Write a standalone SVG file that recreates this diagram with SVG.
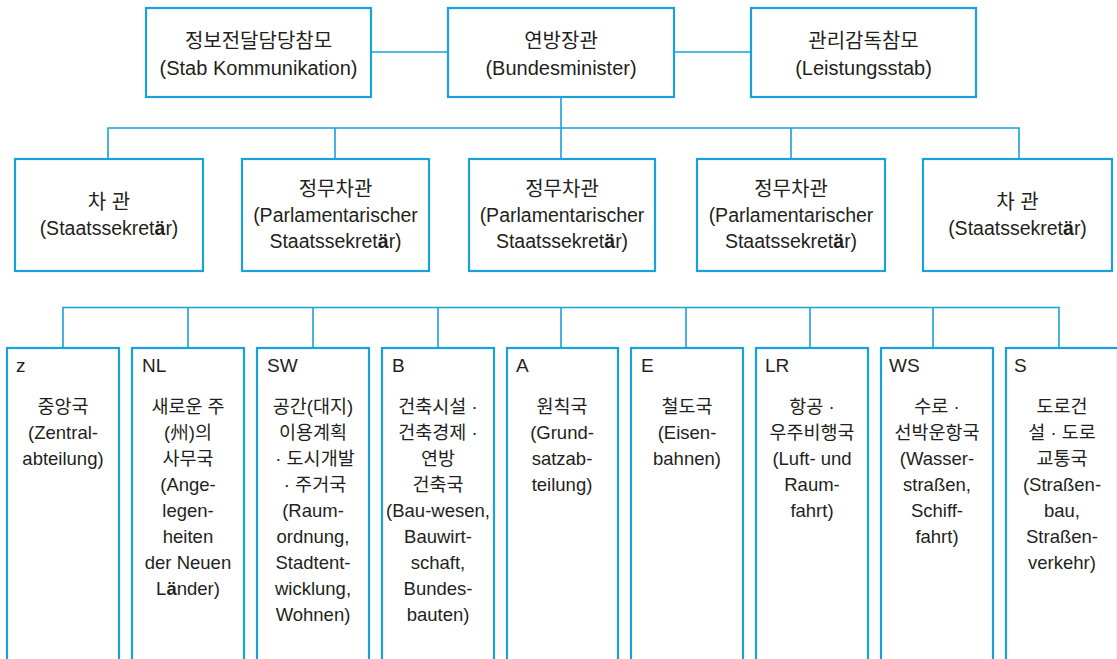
<svg xmlns="http://www.w3.org/2000/svg" width="1117" height="659" viewBox="0 0 1117 659">
<style>
.box{fill:#fff;stroke:#1aa0dc;stroke-width:2.2}
.ln{fill:none;stroke:#1aa0dc;stroke-width:1.6}
text{font-family:"Liberation Sans","Noto Sans CJK KR",sans-serif;fill:#231f20;text-anchor:middle}
.t{font-size:20px}
.m{font-size:19.5px}
.b{font-size:18.5px}
.k{font-size:18.5px}
.K{font-size:20px}
.code{font-size:19px;text-anchor:start}
.bo{font-weight:bold}
</style>
<rect width="1117" height="659" fill="#fff"/>
<g id="connectors">
<line class="ln" x1="371" y1="52" x2="448" y2="52"/>
<line class="ln" x1="674" y1="52" x2="751" y2="52"/>
<line class="ln" x1="561" y1="97" x2="561" y2="128"/>
<polyline class="ln" points="108,159 108,128 1019,128 1019,159"/>
<line class="ln" x1="335" y1="128" x2="335" y2="159"/>
<line class="ln" x1="561" y1="128" x2="561" y2="159"/>
<line class="ln" x1="791" y1="128" x2="791" y2="159"/>
<polyline class="ln" points="63,348 63,307.5 1059,307.5 1059,348"/>
<line class="ln" x1="188" y1="307" x2="188" y2="348"/>
<line class="ln" x1="313" y1="307" x2="313" y2="348"/>
<line class="ln" x1="438" y1="307" x2="438" y2="348"/>
<line class="ln" x1="561" y1="307" x2="561" y2="348"/>
<line class="ln" x1="686" y1="307" x2="686" y2="348"/>
<line class="ln" x1="810" y1="307" x2="810" y2="348"/>
<line class="ln" x1="933" y1="307" x2="933" y2="348"/>
</g>
<g id="stab-kommunikation">
<rect class="box" x="146" y="8" width="225" height="89"/>
<text class="K" x="258.5" y="48">정보전달담당참모</text>
<text class="t" x="258.5" y="75">(Stab Kommunikation)</text>
</g>
<g id="bundesminister">
<rect class="box" x="448" y="8" width="226" height="89"/>
<text class="K" x="561" y="48">연방장관</text>
<text class="t" x="561" y="75">(Bundesminister)</text>
</g>
<g id="leistungsstab">
<rect class="box" x="751" y="8" width="225" height="89"/>
<text class="K" x="863.5" y="48">관리감독참모</text>
<text class="t" x="863.5" y="75">(Leistungsstab)</text>
</g>
<g id="staatssekretaer-1">
<rect class="box" x="15" y="159" width="188" height="112"/>
<text class="K" x="109" y="209">차 관</text>
<text class="m" x="109" y="235">(Staatssekret<tspan class="bo">ä</tspan>r)</text>
</g>
<g id="parl-staatssekretaer-1">
<rect class="box" x="242" y="159" width="187" height="112"/>
<text class="K" x="335.5" y="196">정무차관</text>
<text class="m" x="335.5" y="222">(Parlamentarischer</text>
<text class="m" x="335.5" y="248">Staatssekret<tspan class="bo">ä</tspan>r)</text>
</g>
<g id="parl-staatssekretaer-2">
<rect class="box" x="469" y="159" width="186" height="112"/>
<text class="K" x="562" y="196">정무차관</text>
<text class="m" x="562" y="222">(Parlamentarischer</text>
<text class="m" x="562" y="248">Staatssekret<tspan class="bo">ä</tspan>r)</text>
</g>
<g id="parl-staatssekretaer-3">
<rect class="box" x="697" y="159" width="188" height="112"/>
<text class="K" x="791" y="196">정무차관</text>
<text class="m" x="791" y="222">(Parlamentarischer</text>
<text class="m" x="791" y="248">Staatssekret<tspan class="bo">ä</tspan>r)</text>
</g>
<g id="staatssekretaer-2">
<rect class="box" x="923" y="159" width="189" height="112"/>
<text class="K" x="1017.5" y="209">차 관</text>
<text class="m" x="1017.5" y="235">(Staatssekret<tspan class="bo">ä</tspan>r)</text>
</g>
<g id="dept-z">
<rect class="box" x="7" y="348" width="112" height="330"/>
<text class="code" x="16" y="372">z</text>
<text class="k" x="63" y="413">중앙국</text>
<text class="b" x="63" y="439">(Zentral-</text>
<text class="b" x="63" y="465">abteilung)</text>
</g>
<g id="dept-nl">
<rect class="box" x="132" y="348" width="112" height="330"/>
<text class="code" x="142" y="372">NL</text>
<text class="k" x="188" y="413">새로운 주</text>
<text class="k" x="188" y="439">(州)의</text>
<text class="k" x="188" y="465">사무국</text>
<text class="b" x="188" y="491">(Ange-</text>
<text class="b" x="188" y="517">legen-</text>
<text class="b" x="188" y="543">heiten</text>
<text class="b" x="188" y="569">der Neuen</text>
<text class="b" x="188" y="595">L<tspan class="bo">ä</tspan>nder)</text>
</g>
<g id="dept-sw">
<rect class="box" x="257" y="348" width="112" height="330"/>
<text class="code" x="267" y="372">SW</text>
<text class="k" x="313" y="413">공간(대지)</text>
<text class="k" x="313" y="439">이용계획</text>
<text class="k" x="315" y="465">· 도시개발</text>
<text class="k" x="315" y="491">· 주거국</text>
<text class="b" x="313" y="517">(Raum-</text>
<text class="b" x="313" y="543">ordnung,</text>
<text class="b" x="313" y="569">Stadtent-</text>
<text class="b" x="313" y="595">wicklung,</text>
<text class="b" x="313" y="621">Wohnen)</text>
</g>
<g id="dept-b">
<rect class="box" x="382" y="348" width="112" height="330"/>
<text class="code" x="392" y="372">B</text>
<text class="k" x="438" y="413">건축시설 ·</text>
<text class="k" x="438" y="439">건축경제 ·</text>
<text class="k" x="438" y="465">연방</text>
<text class="k" x="438" y="491">건축국</text>
<text class="b" x="438" y="517">(Bau-wesen,</text>
<text class="b" x="438" y="543">Bauwirt-</text>
<text class="b" x="438" y="569">schaft,</text>
<text class="b" x="438" y="595">Bundes-</text>
<text class="b" x="438" y="621">bauten)</text>
</g>
<g id="dept-a">
<rect class="box" x="507" y="348" width="111" height="330"/>
<text class="code" x="516" y="372">A</text>
<text class="k" x="562" y="413">원칙국</text>
<text class="b" x="562" y="439">(Grund-</text>
<text class="b" x="562" y="465">satzab-</text>
<text class="b" x="562" y="491">teilung)</text>
</g>
<g id="dept-e">
<rect class="box" x="631" y="348" width="112" height="330"/>
<text class="code" x="641" y="372">E</text>
<text class="k" x="687" y="413">철도국</text>
<text class="b" x="687" y="439">(Eisen-</text>
<text class="b" x="687" y="465">bahnen)</text>
</g>
<g id="dept-lr">
<rect class="box" x="756" y="348" width="112" height="330"/>
<text class="code" x="765" y="372">LR</text>
<text class="k" x="812" y="413">항공 ·</text>
<text class="k" x="812" y="439">우주비행국</text>
<text class="b" x="812" y="465">(Luft- und</text>
<text class="b" x="812" y="491">Raum-</text>
<text class="b" x="812" y="517">fahrt)</text>
</g>
<g id="dept-ws">
<rect class="box" x="881" y="348" width="112" height="330"/>
<text class="code" x="889" y="372">WS</text>
<text class="k" x="937" y="413">수로 ·</text>
<text class="k" x="937" y="439">선박운항국</text>
<text class="b" x="937" y="465">(Wasser-</text>
<text class="b" x="937" y="491">straßen,</text>
<text class="b" x="937" y="517">Schiff-</text>
<text class="b" x="937" y="543">fahrt)</text>
</g>
<g id="dept-s">
<rect class="box" x="1006" y="348" width="112" height="330"/>
<text class="code" x="1014" y="372">S</text>
<text class="k" x="1062" y="413">도로건</text>
<text class="k" x="1062" y="439">설 · 도로</text>
<text class="k" x="1062" y="465">교통국</text>
<text class="b" x="1062" y="491">(Straßen-</text>
<text class="b" x="1062" y="517">bau,</text>
<text class="b" x="1062" y="543">Straßen-</text>
<text class="b" x="1062" y="569">verkehr)</text>
</g>
</svg>
